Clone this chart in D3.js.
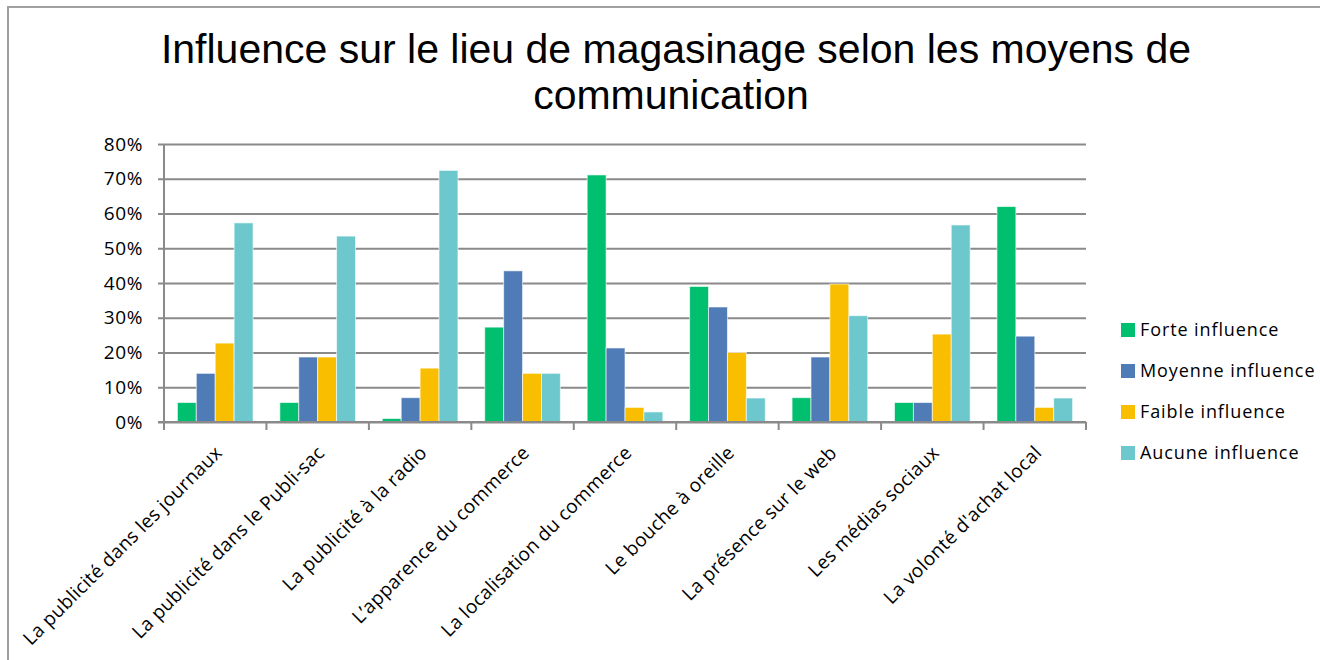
<!DOCTYPE html>
<html lang="fr">
<head>
<meta charset="utf-8">
<script src="https://d3js.org/d3.v7.min.js"></script>
<style>
  body { margin: 0; background: #fff; }
</style>
</head>
<body>
<script>
  var categories = [
    "La publicité dans les journaux",
    "La publicité dans le Publi-sac",
    "La publicité à la radio",
    "L’apparence du commerce",
    "La localisation du commerce",
    "Le bouche à oreille",
    "La présence sur le web",
    "Les médias sociaux",
    "La volonté d'achat local"
  ];
  var seriesNames = ["Forte influence", "Moyenne influence", "Faible influence", "Aucune influence"];
  var forte   = [0.056, 0.056, 0.010, 0.273, 0.711, 0.390, 0.070, 0.056, 0.620];
  var moyenne = [0.140, 0.187, 0.070, 0.435, 0.213, 0.331, 0.187, 0.056, 0.247];
  var faible  = [0.227, 0.187, 0.155, 0.140, 0.042, 0.200, 0.397, 0.253, 0.042];
  var aucune  = [0.573, 0.535, 0.724, 0.140, 0.029, 0.069, 0.306, 0.567, 0.069];
  var yTicks  = [0, 0.1, 0.2, 0.3, 0.4, 0.5, 0.6, 0.7, 0.8];
  var colors  = ["#00bf6f", "#4f7cb6", "#f9be00", "#6cc8cc"];

  var allSeries = [forte, moyenne, faible, aucune];

  var svgWidth = 1320, svgHeight = 660;
  var plotLeft = 164, plotRight = 1086, plotTop = 144, plotBottom = 422;
  var labelFont = "Open Sans, sans-serif";

  var svg = d3.select("body").append("svg")
    .attr("width", svgWidth)
    .attr("height", svgHeight);

  // frame
  svg.append("path")
    .attr("d", "M8,660 L8,7 L1320,7")
    .attr("fill", "none")
    .attr("stroke", "#a0a0a0")
    .attr("stroke-width", 2);

  // title
  var title = svg.append("text")
    .attr("text-anchor", "middle")
    .attr("font-family", "Liberation Sans, Arial, sans-serif")
    .attr("font-size", 41)
    .attr("fill", "#000");
  title.append("tspan").attr("x", 676).attr("y", 63)
    .text("Influence sur le lieu de magasinage selon les moyens de");
  title.append("tspan").attr("x", 671).attr("y", 109)
    .text("communication");

  var y = d3.scaleLinear().domain([0, 0.8]).range([plotBottom, plotTop]);
  var x = d3.scaleBand().domain(categories).range([plotLeft, plotRight]);
  var xs = d3.scaleBand().domain(seriesNames)
    .range([13.4, x.bandwidth() - 13.4]);

  // gridlines + y labels
  var yAxis = d3.axisLeft(y)
    .tickValues(yTicks)
    .tickFormat(d3.format(".0%"))
    .tickSize(-(plotRight - plotLeft + 6))
    .tickPadding(15);

  var gy = svg.append("g")
    .attr("transform", "translate(" + (plotLeft - 6) + ",0)")
    .call(yAxis);
  gy.select(".domain").remove();
  gy.selectAll(".tick line")
    .attr("stroke", "#8a8a8a")
    .attr("stroke-width", 2);
  gy.selectAll(".tick text")
    .attr("font-family", labelFont)
    .attr("font-size", 19)
    .attr("letter-spacing", 0.6)
    .attr("fill", "#000");

  // vertical axis line
  svg.append("line")
    .attr("x1", plotLeft).attr("x2", plotLeft)
    .attr("y1", y(0.8)).attr("y2", y(0))
    .attr("stroke", "#8a8a8a").attr("stroke-width", 2);

  // bars
  allSeries.forEach(function(vals, s) {
    svg.append("g").selectAll("rect")
      .data(vals)
      .enter()
      .append("rect")
        .attr("x", function(d, i) { return x(categories[i]) + xs(seriesNames[s]); })
        .attr("y", function(d) { return y(d); })
        .attr("width", xs.bandwidth())
        .attr("height", function(d) { return y(0) - y(d); })
        .attr("fill", colors[s])
        .attr("stroke", "#ffffff")
        .attr("stroke-opacity", 0.6)
        .attr("stroke-width", 1);
  });

  // x axis line and category ticks
  svg.append("line")
    .attr("x1", plotLeft - 6).attr("x2", plotRight)
    .attr("y1", y(0)).attr("y2", y(0))
    .attr("stroke", "#8a8a8a").attr("stroke-width", 2);

  var bounds = categories.map(function(c) { return x(c); }).concat([x.range()[1]]);
  svg.append("g").selectAll("line")
    .data(bounds)
    .enter()
    .append("line")
      .attr("x1", function(d) { return d; })
      .attr("x2", function(d) { return d; })
      .attr("y1", y(0))
      .attr("y2", y(0) + 8)
      .attr("stroke", "#8a8a8a")
      .attr("stroke-width", 2);

  // rotated category labels
  svg.append("g").selectAll("text")
    .data(categories)
    .enter()
    .append("text")
      .attr("transform", function(d) {
        return "translate(" + (x(d) + x.bandwidth() / 2 + 8) + "," + (y(0) + 32) + ") rotate(-45)";
      })
      .attr("text-anchor", "end")
      .attr("font-family", labelFont)
      .attr("font-size", 19)
      .attr("letter-spacing", 0.3)
      .attr("fill", "#000")
      .text(function(d) { return d; });

  // legend
  var legend = svg.append("g").selectAll("g")
    .data(seriesNames)
    .enter()
    .append("g")
      .attr("transform", function(d, i) { return "translate(1121," + (330 + i * 41) + ")"; });
  legend.append("rect")
    .attr("x", 0).attr("y", -7)
    .attr("width", 14).attr("height", 14)
    .attr("fill", function(d, i) { return colors[i]; });
  legend.append("text")
    .attr("x", 19).attr("y", 6)
    .attr("font-family", labelFont)
    .attr("font-size", 18)
    .attr("letter-spacing", 0.9)
    .attr("fill", "#000")
    .text(function(d) { return d; });
</script>
</body>
</html>
